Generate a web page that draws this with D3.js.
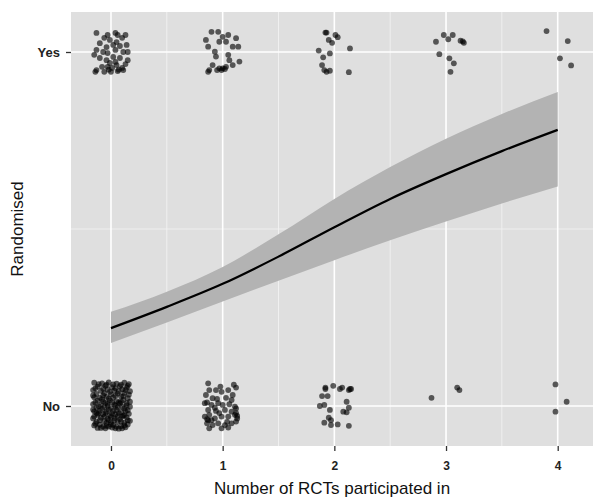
<!DOCTYPE html>
<html>
<head>
<meta charset="utf-8">
<script src="https://cdn.jsdelivr.net/npm/d3@7"></script>
<style>
  html, body { margin: 0; padding: 0; background: #fff; }
  svg { display: block; }
  text { font-family: "Liberation Sans", Arial, sans-serif; }
</style>
</head>
<body>
<svg id="chart" width="593" height="498"></svg>
<script>
// ---- data ----
const xTicks = [0, 1, 2, 3, 4];
const yTickValues = [0, 1];
const yTickLabels = ["No", "Yes"];
const xTitle = "Number of RCTs participated in";
const yTitle = "Randomised";

// fitted logistic curve and confidence band
const fitX = [0, 0.5, 1, 1.5, 2, 2.5, 3, 3.5, 4];
const fitY = [0.22, 0.28, 0.345, 0.422, 0.505, 0.585, 0.655, 0.72, 0.78];
const fitUpper = [0.266, 0.323, 0.393, 0.485, 0.585, 0.675, 0.755, 0.825, 0.887];
const fitLower = [0.178, 0.236, 0.295, 0.354, 0.412, 0.468, 0.521, 0.572, 0.62];

// jittered observations [x, y]
const yes0 = [[-0.13,1.054],[-0.03,1.048],[0.04,1.054],[0.06,1.048],[0.13,1.048],[-0.10,1.025],[-0.01,1.034],[0.05,1.028],[0.10,1.040],[0.14,1.020],[-0.13,1.006],[-0.07,1.000],[-0.03,0.997],[0.04,1.006],[0.11,1.000],[-0.10,0.983],[-0.04,0.977],[0.02,0.986],[0.08,0.983],[0.15,0.977],[-0.13,0.949],[-0.08,0.958],[-0.03,0.958],[0.01,0.955],[0.05,0.963],[0.10,0.955],[0.11,0.949],[-0.01,0.969],[0.04,0.972],[-0.04,1.014],[-0.14,0.944],[-0.06,0.944],[0.00,0.944],[0.06,0.946],[0.13,0.966],[0.02,1.020],[-0.06,1.040],[0.08,1.017],[0.15,1.000],[-0.15,0.992],[0.07,0.950],[-0.02,0.950]];
const yes1 = [[0.90,1.057],[0.96,1.057],[1.05,1.048],[1.00,1.043],[1.12,1.039],[0.85,1.034],[0.97,1.029],[1.03,1.029],[1.09,1.015],[1.14,1.015],[0.87,1.015],[0.93,1.001],[0.94,0.987],[1.05,0.992],[1.06,0.977],[0.91,0.963],[0.97,0.954],[1.00,0.954],[1.03,0.958],[1.09,0.963],[1.15,0.973],[0.87,0.944],[0.88,0.949],[0.99,0.949],[0.95,0.949],[1.02,0.952]];
const yes2 = [[1.92,1.055],[1.93,1.055],[2.01,1.048],[2.03,1.042],[1.95,1.034],[1.98,1.026],[2.14,1.010],[1.86,1.004],[1.96,0.996],[1.90,0.985],[1.89,0.963],[1.91,0.949],[1.93,0.944],[1.96,0.947],[2.13,0.943]];
const yes3 = [[2.91,1.029],[2.98,1.048],[3.02,1.036],[3.06,1.048],[3.13,1.032],[3.16,1.026],[3.15,1.030],[2.94,0.994],[3.03,0.982],[3.07,0.968],[3.04,0.944]];
const yes4 = [[3.90,1.059],[4.09,1.031],[4.02,0.982],[4.12,0.962]];
const no0 = [[-0.15,0.066],[-0.08,0.064],[-0.02,0.067],[0.05,0.063],[0.12,0.066],[0.16,0.062],
[-0.12,0.055],[-0.05,0.057],[0.01,0.053],[0.08,0.056],[0.14,0.052],
[-0.16,0.045],[-0.09,0.043],[-0.03,0.046],[0.03,0.044],[0.10,0.047],[0.17,0.042],
[-0.13,0.034],[-0.06,0.036],[0.00,0.033],[0.06,0.035],[0.12,0.037],
[-0.15,0.025],[-0.10,0.023],[-0.04,0.026],[0.02,0.024],[0.09,0.027],[0.15,0.022],
[-0.12,0.015],[-0.07,0.013],[-0.01,0.016],[0.05,0.014],[0.11,0.017],[0.17,0.012],
[-0.16,0.005],[-0.09,0.003],[-0.03,0.006],[0.03,0.004],[0.08,0.007],[0.14,0.002],
[-0.13,-0.005],[-0.06,-0.003],[0.00,-0.006],[0.06,-0.004],[0.12,-0.007],[0.17,-0.002],
[-0.15,-0.015],[-0.10,-0.013],[-0.04,-0.016],[0.02,-0.014],[0.09,-0.017],[0.15,-0.012],
[-0.12,-0.025],[-0.07,-0.023],[-0.01,-0.026],[0.04,-0.024],[0.11,-0.027],
[-0.16,-0.035],[-0.09,-0.033],[-0.03,-0.036],[0.03,-0.034],[0.08,-0.037],[0.14,-0.032],
[-0.13,-0.045],[-0.06,-0.043],[0.00,-0.046],[0.06,-0.044],[0.12,-0.047],[0.17,-0.042],
[-0.15,-0.055],[-0.10,-0.053],[-0.04,-0.056],[0.02,-0.054],[0.09,-0.057],[0.15,-0.052],
[-0.12,-0.062],[-0.05,-0.063],[0.01,-0.061],[0.07,-0.064],[0.13,-0.060],
[-0.07,0.030],[0.04,0.050],[-0.11,-0.020],[0.10,-0.030],[-0.02,-0.040],[0.07,0.010],
[-0.11,0.062],[-0.04,0.060],[0.02,0.061],[0.09,0.060],[0.15,0.057],
[-0.14,0.050],[-0.07,0.049],[-0.01,0.040],[0.07,0.042],[0.13,0.045],
[-0.16,0.030],[-0.08,0.019],[-0.02,0.021],[0.04,0.029],[0.11,0.028],[0.16,0.032],
[-0.14,0.010],[-0.05,0.009],[0.01,0.010],[0.09,0.012],[0.14,0.008],
[-0.11,-0.001],[-0.03,0.000],[0.04,0.001],[0.10,-0.002],
[-0.16,-0.010],[-0.08,-0.008],[-0.02,-0.010],[0.05,-0.011],[0.13,-0.014],
[-0.13,-0.020],[-0.05,-0.020],[0.01,-0.021],[0.07,-0.020],[0.16,-0.022],
[-0.15,-0.030],[-0.06,-0.030],[0.00,-0.031],[0.06,-0.029],[0.12,-0.026],
[-0.10,-0.040],[-0.04,-0.048],[0.03,-0.041],[0.09,-0.044],[0.15,-0.040],
[-0.14,-0.050],[-0.07,-0.058],[0.00,-0.052],[0.05,-0.058],[0.12,-0.055],
[-0.09,-0.062],[-0.02,-0.058],[0.04,-0.063],[0.10,-0.063]];
const no1 = [[0.87,0.064],[0.88,0.045],[0.94,0.045],[0.99,0.040],[1.05,0.045],[1.12,0.052],[1.09,0.031],[0.85,0.031],[0.91,0.022],[1.03,0.023],[1.08,0.017],[0.84,0.008],[0.90,0.003],[0.96,0.008],[1.00,0.003],[1.11,-0.002],[0.87,-0.011],[0.94,-0.014],[1.02,-0.011],[1.08,-0.016],[1.12,-0.007],[0.84,-0.030],[0.88,-0.025],[0.93,-0.035],[0.99,-0.030],[1.05,-0.030],[1.11,-0.025],[0.86,-0.049],[0.91,-0.054],[0.96,-0.049],[1.02,-0.054],[1.08,-0.049],[1.12,-0.044],[0.88,-0.063],[0.99,-0.063],[1.05,-0.061],[0.95,0.020],[1.06,0.005],[0.90,-0.040],[1.04,-0.045],[0.97,-0.020],[1.10,0.060],[0.86,0.010],[0.98,0.055],[1.13,-0.035],[0.93,-0.005],[1.12,-0.020],[1.13,-0.028],[0.87,-0.040],[0.86,-0.037]];
const no2 = [[1.92,0.052],[1.92,0.048],[1.99,0.057],[2.05,0.048],[2.07,0.052],[2.13,0.045],[2.14,0.048],[2.15,0.048],[1.89,0.028],[1.94,0.028],[2.11,0.012],[1.87,0.000],[1.91,0.003],[2.13,-0.005],[1.96,-0.011],[2.08,-0.016],[2.11,-0.018],[1.95,-0.033],[1.97,-0.040],[1.91,-0.047],[1.97,-0.054],[2.03,-0.052],[2.13,-0.056]];
const no3 = [[3.10,0.052],[3.12,0.045],[2.87,0.023]];
const no4 = [[3.98,0.061],[4.08,0.012],[3.98,-0.016]];

// ---- drawing ----
const svg = d3.select("#chart");
const panel = { left: 71, right: 593, top: 12, bottom: 446 };

const x = d3.scaleLinear().domain([-0.358, 4.316]).range([panel.left, panel.right]);
const y = d3.scaleLinear().domain([-0.113, 1.113]).range([panel.bottom, panel.top]);

// panel background
svg.append("rect")
  .attr("x", panel.left).attr("y", panel.top)
  .attr("width", panel.right - panel.left).attr("height", panel.bottom - panel.top)
  .attr("fill", "#dfdfdf");

const grid = svg.append("g");
const minorX = [0.5, 1.5, 2.5, 3.5];
const minorY = [0.5];
grid.selectAll(".mx").data(minorX).enter().append("line")
  .attr("x1", d => x(d)).attr("x2", d => x(d))
  .attr("y1", panel.top).attr("y2", panel.bottom)
  .attr("stroke", "#f2f2f2").attr("stroke-width", 0.9);
grid.selectAll(".my").data(minorY).enter().append("line")
  .attr("y1", d => y(d)).attr("y2", d => y(d))
  .attr("x1", panel.left).attr("x2", panel.right)
  .attr("stroke", "#f2f2f2").attr("stroke-width", 0.9);
grid.selectAll(".Mx").data(xTicks).enter().append("line")
  .attr("x1", d => x(d)).attr("x2", d => x(d))
  .attr("y1", panel.top).attr("y2", panel.bottom)
  .attr("stroke", "#ffffff").attr("stroke-width", 1.6);
grid.selectAll(".My").data(yTickValues).enter().append("line")
  .attr("y1", d => y(d)).attr("y2", d => y(d))
  .attr("x1", panel.left).attr("x2", panel.right)
  .attr("stroke", "#ffffff").attr("stroke-width", 1.6);

// points
const allPoints = [].concat(yes0, yes1, yes2, yes3, yes4, no0, no1, no2, no3, no4);
svg.append("g").selectAll("circle").data(allPoints).enter().append("circle")
  .attr("cx", d => x(d[0])).attr("cy", d => y(d[1]))
  .attr("r", 2.9)
  .attr("fill", "#000").attr("fill-opacity", 0.62);

// ribbon + fitted line
const fit = fitX.map((v, i) => ({ x: v, y: fitY[i], lo: fitLower[i], hi: fitUpper[i] }));
svg.append("path").datum(fit)
  .attr("d", d3.area().curve(d3.curveMonotoneX).x(d => x(d.x)).y0(d => y(d.lo)).y1(d => y(d.hi)))
  .attr("fill", "#b3b3b3");
svg.append("path").datum(fit)
  .attr("d", d3.line().curve(d3.curveMonotoneX).x(d => x(d.x)).y(d => y(d.y)))
  .attr("fill", "none").attr("stroke", "#000").attr("stroke-width", 2.2);

// axes
const xAxis = d3.axisBottom(x).tickValues(xTicks).tickFormat(d3.format("d")).tickSize(5).tickPadding(10);
const gx = svg.append("g").attr("transform", `translate(0,${panel.bottom})`).call(xAxis);
gx.select(".domain").remove();
gx.selectAll(".tick line").attr("stroke", "#333").attr("stroke-width", 1.3);
gx.selectAll(".tick text").attr("fill", "#222").style("font-size", "12px").style("font-weight", "bold")
  .style("font-family", "\"Liberation Sans\", Arial, sans-serif");

const yAxis = d3.axisLeft(y).tickValues(yTickValues).tickFormat((d, i) => yTickLabels[i]).tickSize(5).tickPadding(6);
const gy = svg.append("g").attr("transform", `translate(${panel.left},0)`).call(yAxis);
gy.select(".domain").remove();
gy.selectAll(".tick line").attr("stroke", "#333").attr("stroke-width", 1.3);
gy.selectAll(".tick text").attr("fill", "#222").style("font-size", "13px").style("font-weight", "bold")
  .style("font-family", "\"Liberation Sans\", Arial, sans-serif");

// titles
svg.append("text")
  .attr("x", (panel.left + panel.right) / 2).attr("y", 494)
  .attr("text-anchor", "middle").style("font-size", "17px").attr("fill", "#111")
  .text(xTitle);
svg.append("text")
  .attr("transform", `translate(23,${(panel.top + panel.bottom) / 2}) rotate(-90)`)
  .attr("text-anchor", "middle").style("font-size", "17px").attr("fill", "#111")
  .text(yTitle);
</script>
</body>
</html>
